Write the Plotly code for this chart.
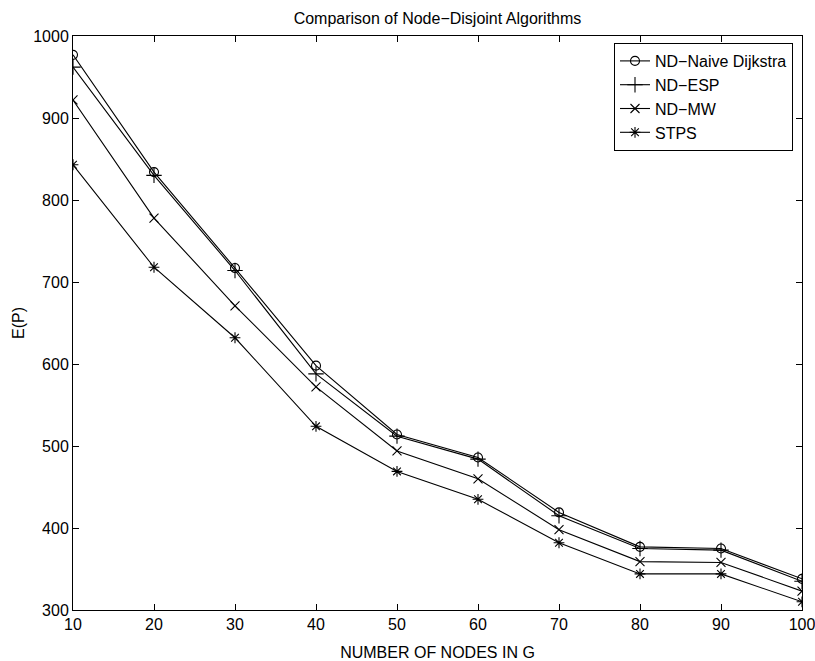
import plotly.graph_objects as go

nodes = [10, 20, 30, 40, 50, 60, 70, 80, 90, 100]
naive_dijkstra = [977, 834, 717, 598, 514, 486, 419, 377, 375, 338]
nd_esp = [962, 830, 714, 588, 512, 484, 415, 375, 373, 335]
nd_mw = [922, 778, 671, 572, 494, 460, 398, 359, 358, 323]
stps = [843, 718, 632, 524, 469, 435, 382, 344, 344, 310]

series = [
    ("ND\u2212Naive Dijkstra", naive_dijkstra, "circle-open", 9),
    ("ND\u2212ESP", nd_esp, "cross-thin-open", 11),
    ("ND\u2212MW", nd_mw, "x-thin-open", 9),
    ("STPS", stps, "asterisk-open", 9),
]

FONT = "Liberation Sans, Arial, Helvetica, sans-serif"

fig = go.Figure()
for name, vals, sym, sz in series:
    fig.add_trace(go.Scatter(
        x=nodes, y=vals, name=name, mode="lines+markers",
        line=dict(color="black", width=1.1),
        marker=dict(symbol=sym, size=sz, color="black",
                    line=dict(color="black", width=1.1)),
    ))

fig.update_layout(
    template="none",
    width=815, height=661,
    margin=dict(l=73, r=13, t=36, b=51, autoexpand=False),
    paper_bgcolor="white", plot_bgcolor="white",
    font=dict(family=FONT, size=16, color="black"),
    title=dict(text="Comparison of Node\u2212Disjoint Algorithms",
               x=0.5, xref="paper", xanchor="center",
               y=1 - 18 / 661, yanchor="middle",
               font=dict(size=16)),
    showlegend=True,
    legend=dict(x=(793 - 73) / 729, xanchor="right", y=1 - (43 - 36) / 574, yanchor="top",
                bordercolor="black", borderwidth=1, bgcolor="white",
                font=dict(size=16), tracegroupgap=0, itemwidth=30),
)
fig.update_xaxes(
    range=[10, 100], tickvals=nodes, ticks="inside", ticklen=6,
    showline=True, linecolor="black", linewidth=1, mirror="allticks",
    showgrid=False, zeroline=False, tickcolor="black",
    tickfont=dict(size=16), ticklabeloverflow="allow", automargin=False,
    title=dict(text="NUMBER OF NODES IN G", standoff=22, font=dict(size=16)),
)
fig.update_yaxes(
    range=[300, 1000], dtick=100, tick0=300, ticks="inside", ticklen=6,
    showline=True, linecolor="black", linewidth=1, mirror="allticks",
    showgrid=False, zeroline=False, tickcolor="black",
    tickfont=dict(size=16), ticklabeloverflow="allow", automargin=False,
    title=dict(text="E(P)", standoff=4, font=dict(size=16)),
)

fig.write_html("out.html")
